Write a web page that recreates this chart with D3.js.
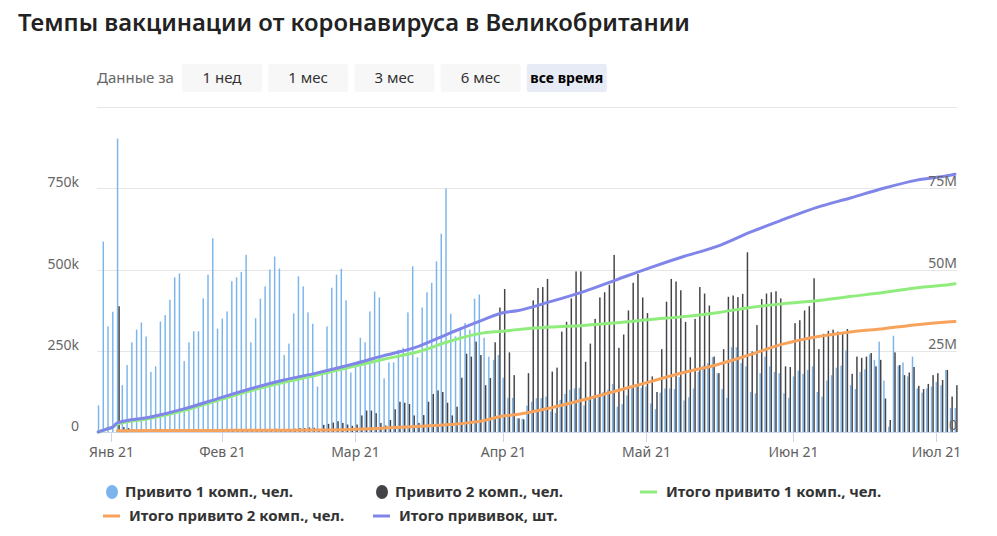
<!DOCTYPE html>
<html lang="ru">
<head>
<meta charset="utf-8">
<title>Темпы вакцинации от коронавируса в Великобритании</title>
<script src="https://cdn.jsdelivr.net/npm/d3@7"></script>
<style>
  body { margin: 0; background: #fff; }
  text { font-family: "Noto Sans", sans-serif; }
</style>
</head>
<body>
<div id="chart"></div>
<script>
// daily doses, thousands, starting 6 Jan 2021
var firstDose = [
  82, 586, 325, 370, 903, 144, 206, 276, 315, 337, 294, 185, 202, 340, 360, 407, 476, 488, 218, 276,
  310, 310, 411, 484, 596, 318, 349, 371, 464, 476, 492, 545, 276, 350, 410, 448, 500, 540, 503, 237,
  272, 365, 479, 448, 368, 333, 140, 180, 325, 444, 484, 502, 405, 183, 212, 290, 276, 371, 432, 414,
  165, 214, 214, 253, 259, 368, 510, 230, 383, 430, 459, 525, 610, 749, 364, 294, 321, 335, 315, 410,
  423, 290, 232, 222, 237, 167, 105, 105, 42, 41, 81, 93, 104, 104, 109, 63, 59, 99, 117, 130,
  134, 136, 82, 99, 109, 117, 123, 130, 148, 78, 86, 113, 134, 140, 136, 140, 88, 70, 121, 134,
  134, 132, 169, 97, 107, 134, 185, 204, 212, 230, 181, 132, 105, 261, 261, 212, 202, 123, 119, 181,
  232, 202, 185, 181, 119, 105, 171, 189, 179, 191, 202, 123, 109, 158, 175, 198, 204, 251, 144, 132,
  185, 193, 239, 222, 278, 158, 16, 296, 204, 214, 171, 232, 134, 121, 134, 140, 154, 144, 191, 74,
  74
];
var secondDose = [
  0, 0, 0, 0, 387, 15, 12, 8, 6, 5, 4, 3, 3, 4, 5, 5, 6, 5, 3, 4,
  5, 6, 6, 7, 8, 4, 5, 6, 7, 8, 8, 9, 5, 6, 7, 8, 9, 10, 9, 6,
  7, 10, 12, 12, 14, 13, 9, 22, 25, 29, 33, 28, 23, 19, 23, 51, 66, 66, 58, 28,
  20, 37, 70, 93, 90, 86, 51, 28, 52, 93, 117, 128, 123, 90, 51, 78, 167, 241, 232, 278,
  237, 144, 166, 276, 383, 440, 245, 175, 42, 39, 181, 405, 443, 446, 471, 186, 198, 309, 339, 411,
  494, 494, 216, 272, 348, 414, 430, 453, 545, 259, 300, 374, 459, 486, 414, 366, 171, 123, 255, 401,
  471, 463, 436, 339, 230, 348, 446, 426, 389, 232, 181, 255, 416, 420, 415, 425, 553, 248, 329, 409,
  426, 430, 433, 411, 202, 200, 335, 344, 374, 387, 473, 255, 302, 311, 315, 309, 305, 317, 179, 232,
  228, 232, 243, 202, 222, 103, 37, 245, 206, 175, 183, 200, 142, 132, 148, 175, 181, 160, 191, 109,
  144
];

// running totals, millions
var lineDates = [
  "2021-01-06", "2021-01-07", "2021-01-08", "2021-01-09", "2021-01-10", "2021-01-17", "2021-01-24",
  "2021-01-31", "2021-02-07", "2021-02-14", "2021-02-21", "2021-02-28", "2021-03-07", "2021-03-14",
  "2021-03-21", "2021-03-28", "2021-04-01", "2021-04-04", "2021-04-11", "2021-04-18", "2021-04-25",
  "2021-05-02", "2021-05-09", "2021-05-16", "2021-05-23", "2021-05-30", "2021-06-06", "2021-06-13",
  "2021-06-20", "2021-06-27", "2021-07-04", "2021-07-05"
];
var totalFirst = [
  0, 0.45, 0.95, 1.4, 2.4, 4.2, 6.6, 9.7, 12.7, 15.3, 17.5, 20.0, 22.4, 24.6, 28.0, 30.5,
  31.0, 31.5, 32.3, 32.8, 33.6, 34.6, 35.5, 36.7, 38.3, 39.5, 40.4, 41.7, 42.9, 44.4, 45.4, 45.6
];
var totalSecond = [
  null, null, null, null, 0.4, 0.44, 0.47, 0.5, 0.52, 0.55, 0.62, 0.8, 1.2, 1.7, 2.3, 3.5,
  4.9, 5.4, 7.4, 9.9, 12.7, 15.5, 18.3, 20.7, 23.8, 27.1, 29.3, 30.8, 31.8, 33.0, 33.9, 34.0
];
var totalAll = [
  0, 0.5, 1.0, 1.5, 2.8, 4.6, 7.1, 10.2, 13.3, 16.0, 18.2, 20.7, 23.5, 26.2, 30.5, 34.6,
  36.7, 37.3, 40.1, 43.2, 46.9, 50.6, 54.0, 57.1, 61.5, 65.4, 69.1, 72.0, 75.0, 77.5, 79.0, 79.3
];

var xTickDates = ["2021-01-08T18:00", "2021-02-01", "2021-03-01", "2021-04-01", "2021-05-01", "2021-06-01", "2021-07-01"];
var xTickLabels = ["Янв 21", "Фев 21", "Мар 21", "Апр 21", "Май 21", "Июн 21", "Июл 21"];
var leftTicks = [0, 250, 500, 750];
var leftTickLabels = ["0", "250k", "500k", "750k"];
var rightTicks = [0, 25, 50, 75];
var rightTickLabels = ["0", "25M", "50M", "75M"];
var ranges = ["1 нед", "1 мес", "3 мес", "6 мес", "все время"];

var width = 997, height = 536;
var plotLeft = 97, plotRight = 957, plotTop = 107, plotBottom = 432;
var colors = {first: "#7cb5ec", second: "#434348", totFirst: "#90ed7d", totSecond: "#f7a35c", total: "#8085e9"};

var parseDay = function(s) { return new Date(s + (s.length > 10 ? "Z" : "T00:00Z")); };

var svg = d3.select("#chart").append("svg")
  .attr("width", width)
  .attr("height", height);

// title, scaled to fit its width in the reference
var title = svg.append("text")
  .attr("x", 18).attr("y", 31)
  .attr("fill", "#222")
  .style("font-weight", 600)
  .style("font-size", "24px")
  .text("Темпы вакцинации от коронавируса в Великобритании");
var tw = title.node().getComputedTextLength();
title.style("font-size", (24 * 672 / tw).toFixed(2) + "px");

// range buttons
svg.append("text")
  .attr("x", 97).attr("y", 83)
  .attr("fill", "#666")
  .style("font-size", "15px")
  .text("Данные за");

var btn = svg.selectAll("g.btn").data(ranges).enter().append("g")
  .attr("class", "btn")
  .attr("transform", function(d, i) { return "translate(" + (182 + i * 86.2) + ",64)"; });
btn.append("rect")
  .attr("width", 80).attr("height", 28).attr("rx", 2)
  .attr("fill", function(d, i) { return i == 4 ? "#e6ebf5" : "#f7f7f7"; });
btn.append("text")
  .attr("x", 40).attr("y", 19)
  .attr("text-anchor", "middle")
  .attr("fill", function(d, i) { return i == 4 ? "#000" : "#333"; })
  .style("font-size", function(d, i) { return i == 4 ? "14px" : "15px"; })
  .style("font-weight", function(d, i) { return i == 4 ? 700 : 400; })
  .text(function(d) { return d; });

// scales
var x = d3.scaleUtc()
  .domain([new Date(Date.UTC(2021, 0, 5, 18)), new Date(Date.UTC(2021, 6, 5, 10))])
  .range([plotLeft, plotRight]);
var yLeft = d3.scaleLinear().domain([0, 1000]).range([plotBottom, plotTop]);
var yRight = d3.scaleLinear().domain([0, 100]).range([plotBottom, plotTop]);
var inDay = d3.scaleBand().domain(["first", "second"]).range([-0.4, 2.6]).paddingInner(0.05);

// grid
svg.append("g").selectAll("line")
  .data([250, 500, 750, 1000])
  .enter().append("line")
  .attr("x1", plotLeft).attr("x2", plotRight)
  .attr("y1", function(d) { return Math.round(yLeft(d)) + 0.5; })
  .attr("y2", function(d) { return Math.round(yLeft(d)) + 0.5; })
  .attr("stroke", "#e6e6e6");

// bars
var days = firstDose.map(function(v, i) { return d3.utcDay.offset(new Date(Date.UTC(2021, 0, 6)), i); });

svg.append("g").selectAll("rect")
  .data(firstDose)
  .enter().append("rect")
  .attr("x", function(d, i) { return x(days[i]) + inDay("first"); })
  .attr("width", inDay.bandwidth())
  .attr("y", function(d) { return yLeft(d); })
  .attr("height", function(d) { return plotBottom - yLeft(d); })
  .attr("fill", colors.first);

svg.append("g").selectAll("rect")
  .data(secondDose)
  .enter().append("rect")
  .attr("x", function(d, i) { return x(days[i]) + inDay("second"); })
  .attr("width", inDay.bandwidth())
  .attr("y", function(d) { return yLeft(d); })
  .attr("height", function(d) { return plotBottom - yLeft(d); })
  .attr("fill", colors.second);

// axis line + ticks
svg.append("line")
  .attr("x1", plotLeft).attr("x2", plotRight)
  .attr("y1", plotBottom + 0.5).attr("y2", plotBottom + 0.5)
  .attr("stroke", "#ccd6eb");

var xt = svg.append("g").selectAll("g")
  .data(xTickDates)
  .enter().append("g")
  .attr("transform", function(d) { return "translate(" + (Math.round(x(parseDay(d))) + 0.5) + "," + plotBottom + ")"; });
xt.append("line").attr("y1", 0).attr("y2", 10).attr("stroke", "#ccd6eb");
xt.append("text")
  .attr("y", 25)
  .attr("text-anchor", "middle")
  .attr("fill", "#606060")
  .style("font-size", "14px")
  .text(function(d, i) { return xTickLabels[i]; });

// lines
var lineData = lineDates.map(function(d, i) {
  return {date: parseDay(d), a: totalFirst[i], b: totalSecond[i], c: totalAll[i]};
});
function drawLine(key, color) {
  var line = d3.line()
    .defined(function(d) { return d[key] != null; })
    .x(function(d) { return x(d.date); })
    .y(function(d) { return yRight(d[key]); })
    .curve(d3.curveMonotoneX);
  svg.append("path")
    .datum(lineData)
    .attr("d", line)
    .attr("fill", "none")
    .attr("stroke", color)
    .attr("stroke-width", 3)
    .attr("stroke-linejoin", "round")
    .attr("stroke-linecap", "round");
}
drawLine("a", colors.totFirst);
drawLine("b", colors.totSecond);
drawLine("c", colors.total);

// y labels
svg.append("g").selectAll("text")
  .data(leftTicks)
  .enter().append("text")
  .attr("x", 79)
  .attr("y", function(d) { return yLeft(d) - 1; })
  .attr("text-anchor", "end")
  .attr("fill", "#666")
  .style("font-size", "14px")
  .text(function(d, i) { return leftTickLabels[i]; });

svg.append("g").selectAll("text")
  .data(rightTicks)
  .enter().append("text")
  .attr("x", 957)
  .attr("y", function(d) { return yRight(d) - 2; })
  .attr("text-anchor", "end")
  .attr("fill", "#666")
  .style("font-size", "14px")
  .text(function(d, i) { return rightTickLabels[i]; });

// legend
var legendItems = [
  {name: "Привито 1 комп., чел.", color: colors.first, type: "dot", x: 106, y: 492},
  {name: "Привито 2 комп., чел.", color: colors.second, type: "dot", x: 376, y: 492},
  {name: "Итого привито 1 комп., чел.", color: colors.totFirst, type: "line", x: 640, y: 492},
  {name: "Итого привито 2 комп., чел.", color: colors.totSecond, type: "line", x: 103, y: 516},
  {name: "Итого прививок, шт.", color: colors.total, type: "line", x: 373, y: 516}
];
var lg = svg.append("g").selectAll("g")
  .data(legendItems)
  .enter().append("g")
  .attr("transform", function(d) { return "translate(" + d.x + "," + d.y + ")"; });
lg.filter(function(d) { return d.type == "dot"; }).append("ellipse")
  .attr("cx", 6).attr("cy", 0).attr("rx", 6).attr("ry", 7)
  .attr("fill", function(d) { return d.color; });
lg.filter(function(d) { return d.type == "line"; }).append("line")
  .attr("x1", 0).attr("x2", 17).attr("y1", 0).attr("y2", 0)
  .attr("stroke-width", 3)
  .attr("stroke", function(d) { return d.color; });
lg.append("text")
  .attr("x", function(d) { return d.type == "dot" ? 19 : 26; })
  .attr("y", 5)
  .attr("fill", "#333")
  .style("font-size", "15px")
  .style("font-weight", 700)
  .text(function(d) { return d.name; });
</script>
</body>
</html>
